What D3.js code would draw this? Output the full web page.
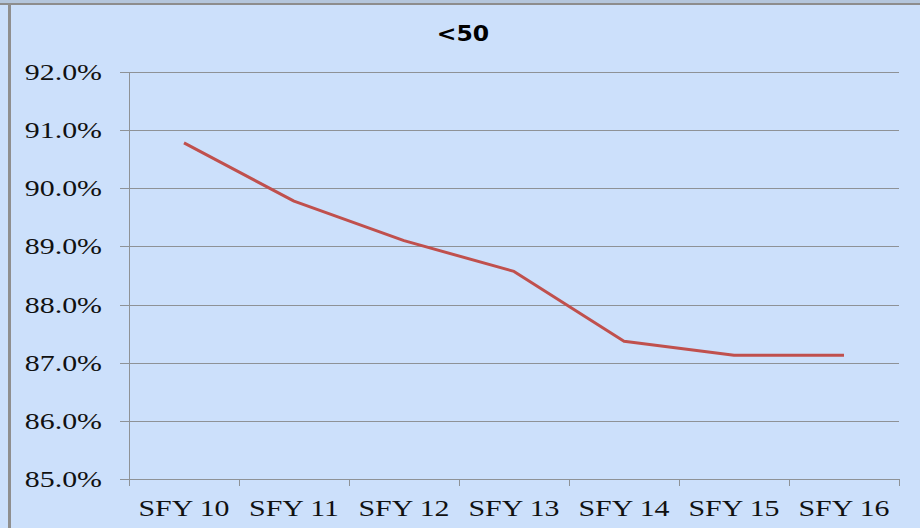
<!DOCTYPE html>
<html>
<head>
<meta charset="utf-8">
<script src="https://cdn.jsdelivr.net/npm/d3@7"></script>
<style>
  html, body { margin: 0; padding: 0; background: #cce0fb; }
  svg { display: block; }
</style>
</head>
<body>
<div id="chart"></div>
<script>
'use strict';

// data
const categories = ['SFY 10', 'SFY 11', 'SFY 12', 'SFY 13', 'SFY 14', 'SFY 15', 'SFY 16'];
const values = [0.9078, 0.8978, 0.8910, 0.8857, 0.8737, 0.8713, 0.8713];
const yTicks = [0.85, 0.86, 0.87, 0.88, 0.89, 0.90, 0.91, 0.92];
const title = '<50';

const w = 920, h = 528;
const margin = {left: 129, right: 21, top: 72, bottom: 49};
const stretch = 1.3; // the original's text is drawn wide

let svg = d3.select('#chart').append('svg')
    .attr('width', w).attr('height', h);

svg.append('rect').attr('width', w).attr('height', h).attr('fill', '#cce0fb');

// frame bits at the edges
svg.append('rect').attr('x', 0).attr('y', 0).attr('width', w).attr('height', 3).attr('fill', '#b4c6dc');
svg.append('line').attr('x1', 0).attr('x2', w).attr('y1', 4).attr('y2', 4)
    .attr('stroke', '#8d8d8d').attr('stroke-width', 2);
svg.append('line').attr('x1', 9.5).attr('x2', 9.5).attr('y1', 3).attr('y2', h)
    .attr('stroke', '#8f8f8f').attr('stroke-width', 3);

let x = d3.scaleBand().domain(categories).range([margin.left, w - margin.right]);
let y = d3.scaleLinear().domain([0.85, 0.92]).range([h - margin.bottom, margin.top]);

// gridlines + left ticks
svg.append('g').selectAll('line').data(yTicks).join('line')
    .attr('x1', margin.left - 9).attr('x2', w - margin.right)
    .attr('y1', d => Math.round(y(d)) + 0.5).attr('y2', d => Math.round(y(d)) + 0.5)
    .attr('stroke', '#8e9296').attr('stroke-width', 1);

// y labels
svg.append('g').selectAll('text').data(yTicks).join('text')
    .attr('transform', d => `translate(102,${y(d)}) scale(${stretch},1)`)
    .attr('dy', '0.35em')
    .attr('text-anchor', 'end')
    .attr('font-family', '"Liberation Serif", "Times New Roman", serif')
    .attr('font-size', 23)
    .attr('fill', '#111')
    .text(d3.format('.1%'));

// y axis line
svg.append('line')
    .attr('x1', margin.left + 0.5).attr('x2', margin.left + 0.5)
    .attr('y1', y(0.92)).attr('y2', y(0.85))
    .attr('stroke', '#8e9296');

// category ticks at band edges
let edges = categories.map(c => x(c)).concat([w - margin.right]);
svg.append('g').selectAll('line').data(edges).join('line')
    .attr('x1', d => Math.round(d) + 0.5).attr('x2', d => Math.round(d) + 0.5)
    .attr('y1', y(0.85)).attr('y2', y(0.85) + 7)
    .attr('stroke', '#8e9296');

svg.append('g').selectAll('text').data(categories).join('text')
    .attr('transform', d => `translate(${x(d) + x.bandwidth() / 2},${h - margin.bottom + 37}) scale(${stretch},1)`)
    .attr('text-anchor', 'middle')
    .attr('font-family', '"Liberation Serif", "Times New Roman", serif')
    .attr('font-size', 23)
    .attr('fill', '#111')
    .text(d => d);

// series line
let line = d3.line()
    .x((d, i) => x(categories[i]) + x.bandwidth() / 2)
    .y(d => y(d));

svg.append('path')
    .datum(values)
    .attr('d', line)
    .attr('fill', 'none')
    .attr('stroke', '#c0504d')
    .attr('stroke-width', 3)
    .attr('stroke-linejoin', 'round');

svg.append('text')
    .attr('transform', 'translate(463,41) scale(1.12,1)')
    .attr('text-anchor', 'middle')
    .attr('font-family', '"DejaVu Sans", Verdana, sans-serif')
    .attr('font-weight', 'bold')
    .attr('font-size', 21)
    .attr('fill', '#000')
    .text(title);
</script>
</body>
</html>
